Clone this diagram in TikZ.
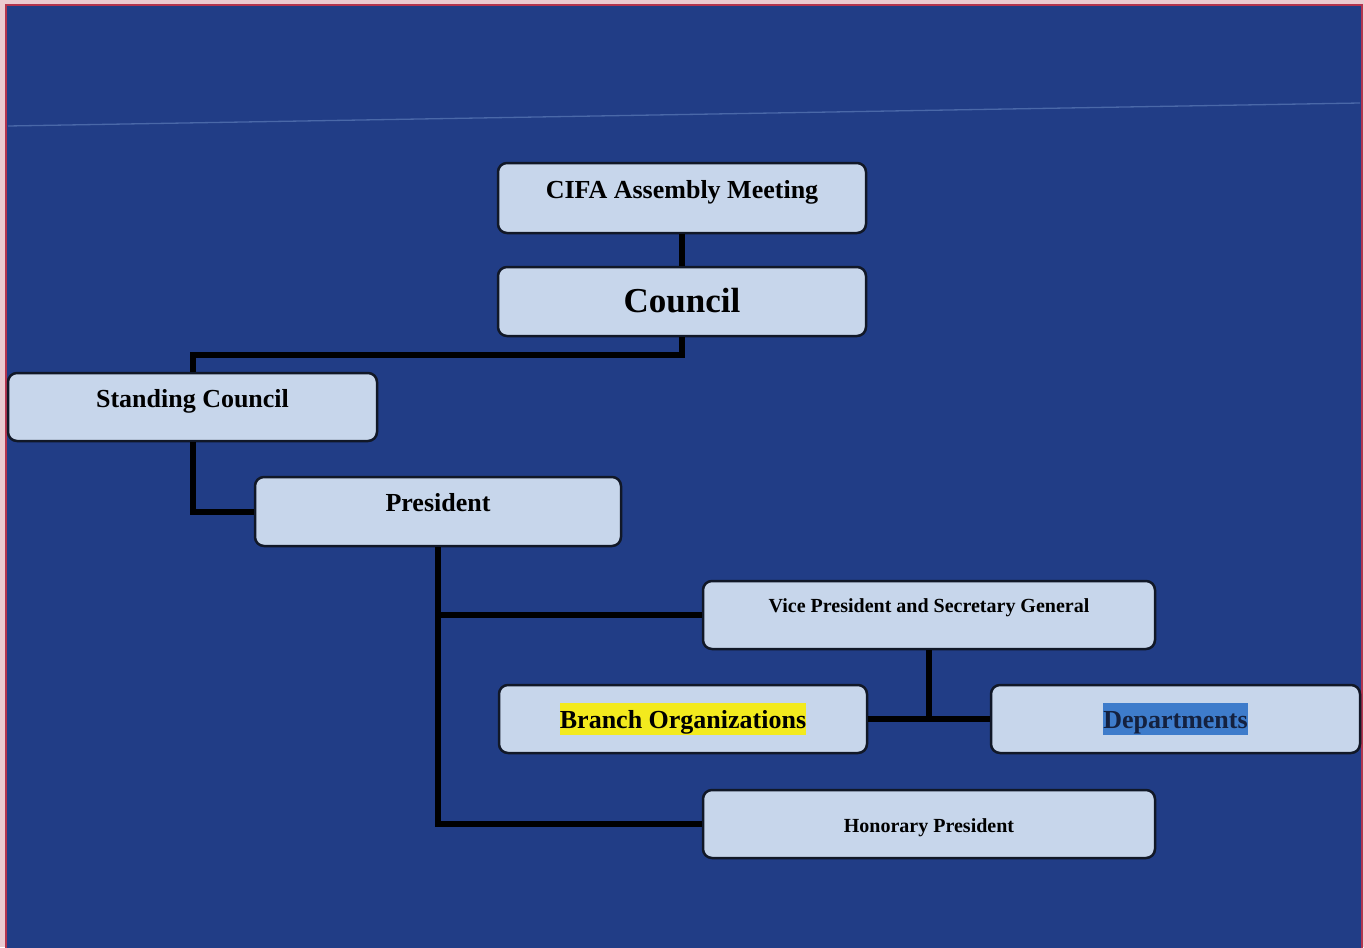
\documentclass[tikz,border=0pt]{standalone}
\usepackage{fontspec}
\setmainfont{Liberation Serif}
\definecolor{bgblue}{HTML}{213D86}
\definecolor{boxfill}{HTML}{C7D6EB}
\definecolor{boxline}{HTML}{111827}
\definecolor{hlyellow}{HTML}{F3EA1E}
\definecolor{hlblue}{HTML}{3E7CCB}
\definecolor{edgered}{HTML}{B3344E}
\definecolor{edgepink}{HTML}{EBCBD0}
\definecolor{faint}{HTML}{4A68A8}
\definecolor{depttext}{HTML}{14213F}
\newcommand{\hl}[2]{{\setlength{\fboxsep}{0pt}\colorbox{#1}{\rule[-7pt]{0pt}{32pt}#2}}}
\begin{document}
\begin{tikzpicture}[x=1pt,y=-1pt,
  orgbox/.style={draw=boxline, line width=2.5pt, fill=boxfill, rounded corners=9pt,
    inner sep=0pt, align=center, text=black, font=\bfseries},
  bigfont/.style={font=\bfseries\fontsize{26}{30}\selectfont},
  smallfont/.style={font=\bfseries\fontsize{20}{24}\selectfont},
  hugefont/.style={font=\bfseries\fontsize{35}{40}\selectfont},
  basecenter/.style={text height=10pt, text depth=10pt},
  conn/.style={draw=black, line width=6pt}
]
\useasboundingbox (0,0) rectangle (1364,947);
\fill[edgepink] (0,0) rectangle (1364,947);
\fill[bgblue, draw=edgered, line width=2pt] (6,5) rectangle (1362,952);
\draw[faint, line width=1.3pt] (8,126) -- (1360,103);

\node[orgbox, bigfont, basecenter, minimum width=368pt, minimum height=70pt] (cifa) at (682,198) {CIFA Assembly Meeting};
\node[orgbox, hugefont, text height=21pt, text depth=0pt, minimum width=368pt, minimum height=69pt] (council) at (682,301.5) {Council};
\node[orgbox, bigfont, basecenter, minimum width=369pt, minimum height=68pt] (standing) at (192.5,407) {Standing Council};
\node[orgbox, bigfont, basecenter, minimum width=366pt, minimum height=69pt] (president) at (438,511.5) {President};
\node[orgbox, smallfont, text height=10pt, text depth=16pt, minimum width=452pt, minimum height=68pt] (vp) at (929,615) {Vice President and Secretary General};
\node[orgbox, bigfont, text height=18pt, text depth=0pt, minimum width=368pt, minimum height=68pt] (branch) at (683,719) {\hl{hlyellow}{Branch Organizations}};
\node[orgbox, bigfont, text height=18pt, text depth=0pt, minimum width=369pt, minimum height=68pt, text=depttext] (dept) at (1175.5,719) {\hl{hlblue}{Departments}};
\node[orgbox, smallfont, text height=16pt, text depth=0pt, minimum width=452pt, minimum height=68pt] (hon) at (929,824) {Honorary President};

\draw[conn] (cifa.south) -- (council.north);
\draw[conn] (council.south) -- ++(0,18) -| (standing.north);
\draw[conn] (standing.south) |- (president.west);
\draw[conn] (president.south) -- (president.south |- hon.west) -- (hon.west);
\draw[conn] (president.south |- vp.west) -- (vp.west);
\draw[conn] (vp.south) -- (vp.south |- branch.east);
\draw[conn] (branch.east) -- (dept.west);
\end{tikzpicture}
\end{document}
